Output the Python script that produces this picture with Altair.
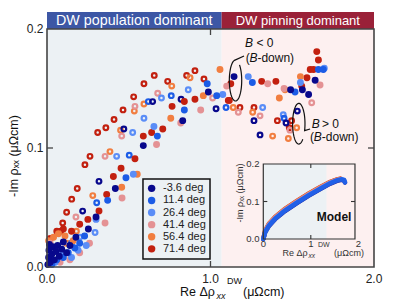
import numpy as np
import pandas as pd
import altair as alt

# ---------------- data ----------------
ANGLES = ["-3.6 deg", "11.4 deg", "26.4 deg", "41.4 deg", "56.4 deg", "71.4 deg"]
COLORS = ["#08088c", "#1c5ce6", "#5a8df7", "#e49294", "#f17e40", "#c2200f"]

X_TICKS = [0.0, 1.0, 2.0]
Y_TICKS = [0.0, 0.1, 0.2]
INSET_X_TICKS = [0, 1, 2]
INSET_Y_TICKS = [0.0, 0.1, 0.2]

# B < 0 (filled circles): (Re, -Im)
filled_m36 = [(0.005, 0.002), (0.01, 0.008), (0.012, 0.014), (0.015, 0.019), (0.02, 0.004), (0.03, 0.011),
              (0.035, 0.017), (0.045, 0.006), (0.055, 0.013), (0.065, 0.018), (0.075, 0.009), (0.09, 0.015),
              (0.10, 0.021), (0.12, 0.012), (0.14, 0.018), (0.177, 0.025), (0.253, 0.032), (0.30, 0.042),
              (0.418, 0.066), (0.589, 0.102), (0.83, 0.123), (0.987, 0.147), (1.144, 0.160), (1.49, 0.149),
              (1.562, 0.149), (1.60, 0.145), (1.64, 0.157)]
filled_114 = [(0.03, 0.002), (0.06, 0.006), (0.10, 0.008), (0.13, 0.012), (0.17, 0.016), (0.20, 0.020),
              (0.23, 0.026), (0.371, 0.056), (0.483, 0.075), (0.675, 0.110), (0.84, 0.132), (0.98, 0.154),
              (1.038, 0.144), (1.256, 0.155), (1.517, 0.147), (1.66, 0.166), (1.69, 0.166)]
filled_264 = [(0.05, 0.004), (0.09, 0.010), (0.15, 0.008), (0.19, 0.014), (0.24, 0.018), (0.30, 0.040),
              (0.528, 0.078), (0.654, 0.118), (1.075, 0.145), (1.231, 0.160), (1.55, 0.155), (1.696, 0.167)]
filled_414 = [(0.02, 0.020), (0.08, 0.004), (0.14, 0.006), (0.20, 0.012), (0.26, 0.020), (0.355, 0.037),
              (0.459, 0.058), (0.67, 0.103), (0.818, 0.121), (0.94, 0.132), (1.099, 0.152), (1.35, 0.154),
              (1.45, 0.150), (1.67, 0.153)]
filled_564 = [(0.01, 0.022), (0.04, 0.025), (0.07, 0.028), (0.11, 0.026), (0.16, 0.022), (0.457, 0.067),
              (0.552, 0.078), (0.757, 0.125), (0.956, 0.144), (1.058, 0.166), (1.421, 0.142), (1.456, 0.149),
              (1.55, 0.160)]
filled_714 = [(0.02, 0.024), (0.06, 0.030), (0.10, 0.032), (0.15, 0.030), (0.20, 0.036), (0.25, 0.040),
              (0.318, 0.047), (0.365, 0.061), (0.406, 0.076), (0.453, 0.083), (0.538, 0.091), (0.589, 0.110),
              (0.64, 0.113), (0.708, 0.116), (0.765, 0.135), (0.84, 0.139), (0.905, 0.141), (1.109, 0.140),
              (1.124, 0.154), (1.313, 0.156), (1.40, 0.156), (1.558, 0.152), (1.59, 0.159), (1.61, 0.166),
              (1.63, 0.166), (1.66, 0.174), (1.65, 0.181)]

# B > 0 (open circles)
open_m36 = [(0.218, 0.047), (0.318, 0.072), (0.47, 0.116), (0.646, 0.139), (0.82, 0.141), (1.034, 0.133),
            (1.266, 0.123), (1.303, 0.111), (1.462, 0.121), (1.531, 0.131)]
open_114 = [(0.15, 0.020), (0.304, 0.054), (0.503, 0.094), (0.62, 0.139), (0.76, 0.144), (1.095, 0.134),
            (1.45, 0.125)]
open_264 = [(0.20, 0.025), (0.294, 0.029), (0.426, 0.093), (0.524, 0.113), (0.593, 0.125), (0.70, 0.142),
            (0.864, 0.149), (1.319, 0.134), (1.445, 0.128)]
open_414 = [(0.177, 0.042), (0.355, 0.093), (0.457, 0.110), (0.538, 0.135), (0.677, 0.146), (1.013, 0.142),
            (1.17, 0.130), (1.303, 0.127), (1.486, 0.115), (1.619, 0.138)]
open_564 = [(0.12, 0.020), (0.18, 0.030), (0.28, 0.060), (0.385, 0.097), (0.45, 0.115), (0.534, 0.131),
            (0.593, 0.137), (0.763, 0.152), (0.875, 0.159), (1.139, 0.134), (1.258, 0.130), (1.38, 0.110),
            (1.476, 0.108), (1.527, 0.117)]
open_714 = [(0.084, 0.030), (0.096, 0.037), (0.12, 0.046), (0.151, 0.057), (0.185, 0.066), (0.232, 0.086),
            (0.263, 0.093), (0.31, 0.113), (0.36, 0.117), (0.41, 0.124), (0.465, 0.132), (0.53, 0.143),
            (0.593, 0.154), (0.656, 0.161), (0.738, 0.156), (0.854, 0.161), (0.905, 0.165), (0.96, 0.158),
            (1.115, 0.140), (1.18, 0.134), (1.266, 0.134), (1.409, 0.123), (1.482, 0.117), (1.496, 0.123)]

# inset model curves (Re, -Im)
model_u_red = [0, 0.04, 0.12, 0.25, 0.45, 0.70, 0.95, 1.20, 1.40, 1.55, 1.62]
model_v_714 = [0, 0.023, 0.041, 0.059, 0.080, 0.101, 0.121, 0.139, 0.152, 0.159, 0.161]
model_v_564 = [0, 0.022, 0.040, 0.058, 0.079, 0.100, 0.120, 0.138, 0.151, 0.158, 0.160]
model_v_414 = [0, 0.021, 0.039, 0.057, 0.078, 0.099, 0.119, 0.137, 0.150, 0.157, 0.159]
model_u_blue = [0, 0.04, 0.12, 0.25, 0.45, 0.70, 0.95, 1.20, 1.40, 1.55, 1.65, 1.70, 1.72]
model_v_m36 = [0, 0.018, 0.035, 0.053, 0.074, 0.095, 0.115, 0.133, 0.147, 0.155, 0.158, 0.156, 0.151]
model_v_264 = [0, 0.019, 0.037, 0.055, 0.076, 0.097, 0.117, 0.135, 0.149, 0.157, 0.160, 0.158, 0.152]
model_v_114 = [0, 0.019, 0.036, 0.054, 0.075, 0.096, 0.116, 0.134, 0.148, 0.156, 0.159, 0.157, 0.151]

FILLED = dict(zip(ANGLES, [filled_m36, filled_114, filled_264, filled_414, filled_564, filled_714]))
OPEN = dict(zip(ANGLES, [open_m36, open_114, open_264, open_414, open_564, open_714]))
MODEL = [("71.4 deg", model_u_red, model_v_714), ("56.4 deg", model_u_red, model_v_564),
         ("41.4 deg", model_u_red, model_v_414), ("-3.6 deg", model_u_blue, model_v_m36),
         ("26.4 deg", model_u_blue, model_v_264), ("11.4 deg", model_u_blue, model_v_114)]
CMAP = dict(zip(ANGLES, COLORS))


def pts(d):
    rows = []
    for a in ANGLES[::-1]:
        for x, y in d[a]:
            rows.append({"x": x, "y": y, "angle": a})
    return pd.DataFrame(rows)


df_f = pts(FILLED)
df_o = pts(OPEN)

# ---------------- layout ----------------
W, H = 327, 238
FONT = "Liberation Sans"
BG_BLUE, BG_PINK = "#ecf1f4", "#fdf0f0"
SPLIT = 1.068

X = alt.Scale(domain=[0, 2], nice=False, zero=False)
Y = alt.Scale(domain=[0, 0.2], nice=False, zero=False)
color_scale = alt.Scale(domain=ANGLES, range=COLORS)


def rect(x0, x1, y0, y1, xs, ys, **mk):
    df = pd.DataFrame({"x0": [x0], "x1": [x1], "y0": [y0], "y1": [y1]})
    return alt.Chart(df).mark_rect(**mk).encode(
        x=alt.X("x0:Q", scale=xs, axis=None), x2="x1:Q",
        y=alt.Y("y0:Q", scale=ys, axis=None), y2="y1:Q")


def band(x0, x1, color):
    df = pd.DataFrame({"x0": [x0], "x1": [x1]})
    return alt.Chart(df).mark_rect(color=color).encode(
        x=alt.X("x0:Q", scale=X, axis=None), x2="x1:Q", y=alt.value(-17), y2=alt.value(0))


def text(rows, size=12, style="normal", weight="normal", color="#111", xs=X, ys=Y, align="left"):
    df = pd.DataFrame(rows, columns=["x", "y", "t"])
    return alt.Chart(df).mark_text(align=align, baseline="middle", fontSize=size, fontStyle=style,
                                   fontWeight=weight, color=color, font=FONT).encode(
        x=alt.X("x:Q", scale=xs, axis=None), y=alt.Y("y:Q", scale=ys, axis=None), text="t:N")


def ptext(rows, size=12, style="normal", angle=0, align="left", color="#111"):
    layers = []
    for px, py, t in rows:
        kw = dict(align=align, baseline="middle", fontSize=size, fontStyle=style, color=color, font=FONT)
        if angle:
            kw["angle"] = angle
        layers.append(alt.Chart(pd.DataFrame({"t": [t]})).mark_text(**kw).encode(
            x=alt.value(px), y=alt.value(py), text="t:N"))
    return layers


def xlabels(vals, fmt, xs, py, size, color):
    df = pd.DataFrame({"v": vals, "t": [format(v, fmt) for v in vals]})
    return alt.Chart(df).mark_text(align="center", baseline="middle", fontSize=size, color=color,
                                   font=FONT).encode(
        x=alt.X("v:Q", scale=xs, axis=None), y=alt.value(py), text="t:N")


def ylabels(vals, fmt, ys, px, size, color):
    df = pd.DataFrame({"v": vals, "t": [format(v, fmt) for v in vals]})
    return alt.Chart(df).mark_text(align="right", baseline="middle", fontSize=size, color=color,
                                   font=FONT).encode(
        y=alt.Y("v:Q", scale=ys, axis=None), x=alt.value(px), text="t:N")


def loop(cx, cy, rx, ry, t0, t1, tail):
    th = np.radians(np.linspace(t0, t1, 60))
    xs = [tail[0]] + list(cx + rx * np.cos(th))
    ys = [tail[1]] + list(cy + ry * np.sin(th))
    df = pd.DataFrame({"x": xs, "y": ys, "i": range(len(xs))})
    return alt.Chart(df).mark_line(color="#111", strokeWidth=1.2).encode(
        x=alt.X("x:Q", scale=X, axis=None), y=alt.Y("y:Q", scale=Y, axis=None), order="i:Q")


def ticks(rows, xs, ys, color, width):
    df = pd.DataFrame(rows, columns=["x", "x2", "y", "y2"])
    return alt.Chart(df).mark_rule(color=color, strokeWidth=width).encode(
        x=alt.X("x:Q", scale=xs, axis=None), x2="x2:Q", y=alt.Y("y:Q", scale=ys, axis=None), y2="y2:Q")


# manual legend rows (data coordinates inside the legend box)
leg = pd.DataFrame({"angle": ANGLES, "y": [0.0661 - 0.01017 * i for i in range(len(ANGLES))]})
leg["xs"] = 0.640
leg["xt"] = 0.7095

tx, ty = 6 / 163.5, 6 / 1190.0
main_layers = [
    rect(0, SPLIT, 0, 0.2, X, Y, color=BG_BLUE),
    rect(SPLIT, 2, 0, 0.2, X, Y, color=BG_PINK),
    band(0, SPLIT, "#3d57a5"),
    band(SPLIT, 2, "#9a2138"),
    alt.Chart(pd.DataFrame({"x": [SPLIT / 2], "t": ["DW population dominant"]})).mark_text(
        color="white", fontSize=14.3, font=FONT, baseline="middle").encode(
        x=alt.X("x:Q", scale=X, axis=None), y=alt.value(-8), text="t:N"),
    alt.Chart(pd.DataFrame({"x": [(SPLIT + 2) / 2], "t": ["DW pinning dominant"]})).mark_text(
        color="white", fontSize=13, font=FONT, baseline="middle").encode(
        x=alt.X("x:Q", scale=X, axis=None), y=alt.value(-8), text="t:N"),
    rect(0.587, 0.997, 0.0067, 0.0739, X, Y, fill=BG_BLUE, stroke="#111", strokeWidth=1.5),
    alt.Chart(leg).mark_circle(size=55, opacity=1).encode(
        x=alt.X("xs:Q", scale=X, axis=None), y=alt.Y("y:Q", scale=Y, axis=None),
        fill=alt.Fill("angle:N", scale=color_scale, legend=None)),
    alt.Chart(leg).mark_text(align="left", baseline="middle", fontSize=11, color="#222", font=FONT).encode(
        x=alt.X("xt:Q", scale=X, axis=None), y=alt.Y("y:Q", scale=Y, axis=None), text="angle:N"),
    alt.Chart(df_o).mark_point(filled=False, shape="circle", size=22, strokeWidth=2.2, opacity=1).encode(
        x=alt.X("x:Q", scale=X, axis=None), y=alt.Y("y:Q", scale=Y, axis=None),
        stroke=alt.Stroke("angle:N", scale=color_scale, legend=None)),
    alt.Chart(df_f).mark_circle(size=48, opacity=1).encode(
        x=alt.X("x:Q", scale=X, axis=None), y=alt.Y("y:Q", scale=Y, axis=None),
        fill=alt.Fill("angle:N", scale=color_scale, legend=None)),
    loop(1.153, 0.1567, 0.0379, 0.0172, 95, 410, (1.205, 0.1773)),
    loop(1.540, 0.1204, 0.0379, 0.0171, -20, 310, (1.609, 0.1160)),
    text([(1.211, 0.1882, "B"), (1.238, 0.1756, "B"), (1.619, 0.1202, "B"), (1.632, 0.1092, "B")],
         style="italic"),
    text([(1.281, 0.1882, "< 0"), (1.215, 0.1756, "("), (1.287, 0.1756, "-down)"),
          (1.682, 0.1202, "> 0"), (1.609, 0.1092, "("), (1.681, 0.1092, "-down)")]),
    ticks([(1, 1, 0, ty), (1, 1, 0.2 - ty, 0.2), (0, tx, 0.1, 0.1), (2 - tx, 2, 0.1, 0.1)],
          X, Y, "#454545", 1.3),
    alt.Chart(pd.DataFrame({"a": [0]})).mark_rect(fill="white", fillOpacity=0, stroke="#454545",
                                                   strokeWidth=1.6).encode(
        x=alt.value(0), x2=alt.value(W), y=alt.value(0), y2=alt.value(H)),
    xlabels(X_TICKS, ".1f", X, 249.5, 12, "#222"),
    ylabels(Y_TICKS, ".1f", Y, -3.5, 12, "#222"),
]
main_layers += ptext([(133, 263, "Re Δρ"), (196, 263, "(μΩcm)")], size=12.5)
main_layers += ptext([(169.5, 267, "xx")], size=9, style="italic")
main_layers += ptext([(180, 252, "DW")], size=9)
main_layers += ptext([(-33, 127, "-Im ρₓₓ (μΩcm)")], size=12.5, angle=270, align="center")

main = alt.layer(*main_layers)

# ---------------- inset ----------------
IX = alt.Scale(domain=[0, 2], range=[216.3, 311.3], nice=False, zero=False)
IY = alt.Scale(domain=[0, 0.2], range=[210, 135], nice=False, zero=False)
IU = 1.93
itx, ity = 4 / 47.5, 4 / 375.0
inset_layers = [
    rect(0, 1.335, 0, 0.2, IX, IY, color=BG_BLUE),
    rect(1.335, IU, 0, 0.2, IX, IY, color=BG_PINK),
]
for a, u, v in MODEL:
    df = pd.DataFrame({"u": u, "v": v, "i": range(len(u))})
    inset_layers.append(alt.Chart(df).mark_line(color=CMAP[a], strokeWidth=4.5, opacity=0.9,
                                                strokeCap="round").encode(
        x=alt.X("u:Q", scale=IX, axis=None), y=alt.Y("v:Q", scale=IY, axis=None), order="i:Q"))
inset_layers += [
    ticks([(1, 1, 0, ity), (1, 1, 0.2 - ity, 0.2), (0, itx, 0.1, 0.1), (IU - itx, IU, 0.1, 0.1)],
          IX, IY, "#333", 1.1),
    rect(0, IU, 0, 0.2, IX, IY, fill="white", fillOpacity=0, stroke="#333", strokeWidth=1.2),
    text([(1.49, 0.0595, "Model")], size=12, weight="bold", xs=IX, ys=IY, align="center"),
    xlabels(INSET_X_TICKS, "d", IX, 214.5, 9.5, "#333"),
    ylabels(INSET_Y_TICKS, ".1f", IY, 212.5, 9.5, "#333"),
]
inset_layers += ptext([(235.5, 223.7, "Re Δρ"), (287, 223.7, "(μΩcm)")], size=9, color="#333")
inset_layers += ptext([(261.5, 226.5, "xx")], size=6.5, style="italic", color="#333")
inset_layers += ptext([(271, 215.5, "DW")], size=7, color="#333")
inset_layers += ptext([(193, 164, "-Im ρₓₓ (μΩcm)")], size=9, angle=270, align="center", color="#333")
inset = alt.layer(*inset_layers)

chart = alt.layer(main, inset).resolve_scale(x="independent", y="independent").properties(
    width=W, height=H, autosize=alt.AutoSizeParams(type="none"),
    padding={"left": 39, "top": 21, "right": 18, "bottom": 33},
).configure(font=FONT).configure_view(stroke=None)

chart.save("out.html", embed_options={"renderer": "svg", "actions": False})
